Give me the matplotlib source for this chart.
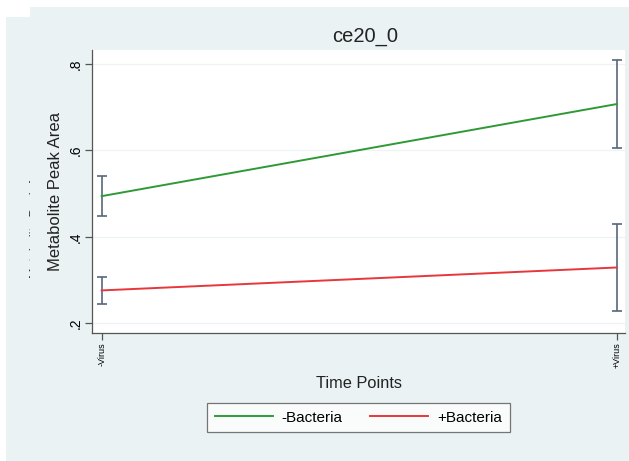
import matplotlib
matplotlib.use("Agg")
import matplotlib.pyplot as plt
from matplotlib.patches import Rectangle
from matplotlib.transforms import Bbox

plt.rcParams['font.family'] = ['Liberation Sans', 'DejaVu Sans']

# dados
pontos = ["-Virus", "+Virus"]
sem_bact = [0.494, 0.707]
sem_bact_lo = [0.448, 0.606]
sem_bact_hi = [0.540, 0.809]
com_bact = [0.276, 0.329]
com_bact_lo = [0.244, 0.228]
com_bact_hi = [0.307, 0.429]
yticks = [0.2, 0.4, 0.6, 0.8]
ytick_labels = [".2", ".4", ".6", ".8"]

W, H = 629, 461
fundo = "#EAF2F3"
fig = plt.figure(figsize=(W / 100, H / 100), dpi=100)
fig.patch.set_facecolor("white")

# fundo do print de tela (duas janelas sobrepostas)
fig.patches.append(Rectangle((6 / W, 0), 1, 1 - 17 / H, transform=fig.transFigure,
                             facecolor=fundo, edgecolor="none", zorder=-2))
fig.patches.append(Rectangle((29.6 / W, 0), 1, 1 - 7 / H, transform=fig.transFigure,
                             facecolor=fundo, edgecolor="none", zorder=-2))
# rotulo da janela de baixo, quase todo escondido
fantasma = fig.text(30 / W, 1 - 218 / H, "Metabolite Peak Area", rotation=90, ha="left",
                    va="center", fontsize=9, color="#333333", zorder=-1)
fantasma.set_clip_box(Bbox([[0, 0], [30, H]]))

ax = fig.add_axes([92 / W, 1 - 333 / H, (625 - 92) / W, (333 - 50) / H])
ax.set_facecolor("white")

x = list(range(len(pontos)))
cor_erro = "#56677A"
for med, lo, hi in [(sem_bact, sem_bact_lo, sem_bact_hi), (com_bact, com_bact_lo, com_bact_hi)]:
    err = [[m - l for m, l in zip(med, lo)], [h - m for m, h in zip(med, hi)]]
    ax.errorbar(x, med, yerr=err, fmt="none", ecolor=cor_erro, elinewidth=1.2,
                capsize=3.5, capthick=1.2, zorder=2)

ax.plot(x, sem_bact, color="#2E9A36", lw=1.4, label="-Bacteria", zorder=3)
ax.plot(x, com_bact, color="#E8373C", lw=1.4, label="+Bacteria", zorder=3)

ax.set_xlim(-0.0188, 1.016)
ax.set_ylim(0.1775, 0.832)
ax.set_yticks(yticks)
ax.set_yticklabels(ytick_labels, rotation=90, va="center", fontsize=10)
ax.set_xticks(x)
ax.set_xticklabels(pontos, rotation=90, fontsize=6.5)
ax.tick_params(direction="out", length=5, width=0.9, color="#555555", pad=2)
ax.grid(axis="y", color="#EEF2F2", lw=0.9)
ax.set_axisbelow(True)
for s in ["top", "right"]:
    ax.spines[s].set_visible(False)
for s in ["left", "bottom"]:
    ax.spines[s].set_color("#555555")
    ax.spines[s].set_linewidth(0.9)

fig.text(365 / W, 1 - 37 / H, "ce20_0", ha="center", va="center", fontsize=14.5, color="#222222")
fig.text(56 / W, 1 - 191.5 / H, "Metabolite Peak Area", rotation=90, ha="center",
         va="center", fontsize=12, color="#222222")
fig.text(359 / W, 1 - 384 / H, "Time Points", ha="center", va="center", fontsize=11.8, color="#222222")

leg = ax.legend(loc="center", bbox_to_anchor=(358.5 / W, 1 - 417.5 / H),
                bbox_transform=fig.transFigure, ncol=2, fontsize=11, frameon=True,
                fancybox=False, edgecolor="#555555", handlelength=3.8,
                handletextpad=0.6, columnspacing=1.8, borderpad=0.5)
leg.get_frame().set_linewidth(0.9)

fig.savefig("out.png", dpi=100, facecolor=fig.get_facecolor())
